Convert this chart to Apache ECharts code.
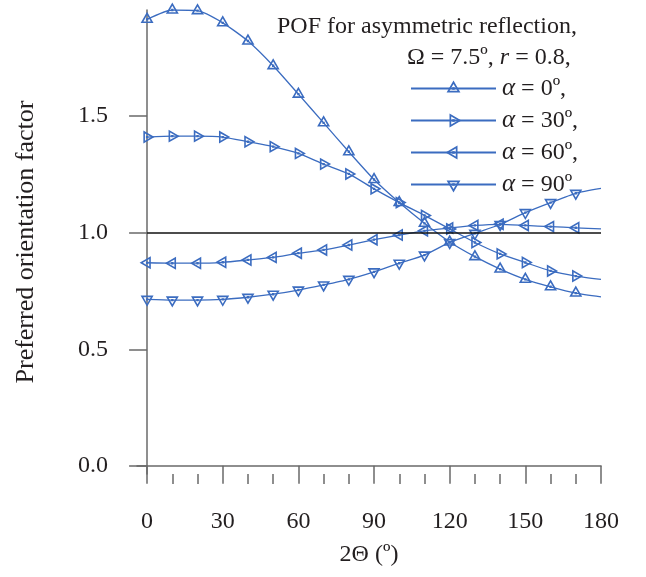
<!DOCTYPE html>
<html>
<head>
<meta charset="utf-8">
<script src="https://cdn.jsdelivr.net/npm/echarts@6/dist/echarts.min.js"></script>
<style>
  html, body { margin: 0; padding: 0; background: #fff; }
  #chart { width: 646px; height: 577px; }
</style>
</head>
<body>
<div id="chart"></div>
<script>
const twoTheta = [0, 10, 20, 30, 40, 50, 60, 70, 80, 90, 100, 110, 120, 130, 140, 150, 160, 170, 180]
const alphas = ['0', '30', '60', '90']
const pofAlpha0 = [1.915, 1.955, 1.952, 1.900, 1.822, 1.716, 1.594, 1.471, 1.347, 1.228, 1.129, 1.040, 0.960, 0.897, 0.844, 0.800, 0.768, 0.741, 0.725]
const pofAlpha30 = [1.410, 1.414, 1.414, 1.410, 1.390, 1.369, 1.340, 1.294, 1.252, 1.188, 1.129, 1.074, 1.016, 0.958, 0.909, 0.872, 0.836, 0.814, 0.800]
const pofAlpha60 = [0.871, 0.869, 0.869, 0.873, 0.883, 0.894, 0.912, 0.926, 0.947, 0.970, 0.990, 1.008, 1.020, 1.031, 1.036, 1.031, 1.026, 1.021, 1.016]
const pofAlpha90 = [0.714, 0.711, 0.711, 0.714, 0.723, 0.736, 0.754, 0.776, 0.800, 0.832, 0.869, 0.904, 0.958, 0.997, 1.035, 1.086, 1.129, 1.169, 1.190]
const yTicks = [0, 0.5, 1.0, 1.5]
const xTicks = [0, 30, 60, 90, 120, 150, 180]
const xMinorTicks = [10, 20, 40, 50, 70, 80, 100, 110, 130, 140, 160, 170]

const BLUE = '#3b6cc0'
const GREY = '#6a6a6a'
const INK = '#231f20'
const FONT = '"Liberation Serif", "Times New Roman", serif'
const FS = 24

// hollow triangle with a centre dot, padded so the centroid is the box centre
const TRI = 'path://M50 0L100 87L0 87Z M50 25L21.6 74.5L78.4 74.5Z M41 49L59 49L59 67L41 67Z M-8 116L-8 116Z M108 116L108 116Z'

const chart = echarts.init(document.getElementById('chart'))

const rotations = [0, -90, 90, 180]
const values = [pofAlpha0, pofAlpha30, pofAlpha60, pofAlpha90]

const series = values.map((ys, i) => ({
  name: 'a' + alphas[i],
  type: 'line',
  smooth: 0.2,
  symbol: TRI,
  symbolSize: 15,
  symbolRotate: rotations[i],
  lineStyle: { color: BLUE, width: 1.3 },
  itemStyle: { color: BLUE, borderWidth: 0 },
  data: twoTheta.map((x, j) => j === twoTheta.length - 1
    ? { value: [x, ys[j]], symbol: 'none' }
    : [x, ys[j]]),
  z: 3
}))

series.push({
  name: 'ref',
  type: 'line',
  data: [],
  markLine: {
    silent: true,
    symbol: 'none',
    label: { show: false },
    lineStyle: { color: '#111', width: 1.5, type: 'solid' },
    data: [[{ coord: [0, 1] }, { coord: [180, 1] }]]
  },
  z: 2
})

chart.setOption({
  animation: false,
  title: [
    {
      text: 'POF for asymmetric reflection,',
      left: 272, top: 10,
      textStyle: { fontFamily: FONT, fontSize: FS, fontWeight: 'normal', color: INK }
    },
    {
      text: 'Ω = 7.5º, {i|r} = 0.8,',
      left: 402, top: 41,
      textStyle: {
        fontFamily: FONT, fontSize: FS, fontWeight: 'normal', color: INK,
        rich: { i: { fontFamily: FONT, fontSize: FS, fontStyle: 'italic', color: INK } }
      }
    }
  ],
  legend: {
    data: series.slice(0, 4).map(s => s.name),
    orient: 'vertical',
    left: 405, top: 71,
    itemWidth: 85, itemHeight: 20, itemGap: 7,
    formatter: name => '{i|α} = ' + name.slice(1) + 'º' + (name === 'a90' ? '' : ','),
    textStyle: {
      fontFamily: FONT, fontSize: FS, color: INK, lineHeight: 20, padding: [0, 0, 0, 1],
      rich: { i: { fontFamily: FONT, fontSize: FS + 1, fontStyle: 'italic', color: INK, lineHeight: 20 } }
    }
  },
  grid: { left: 137, right: 45, top: 10, bottom: 103 },
  xAxis: [
    {
      type: 'value', min: -4, max: 180,
      name: '2Θ (º)', nameLocation: 'middle', nameGap: 69,
      nameTextStyle: { fontFamily: FONT, fontSize: FS, color: INK },
      splitLine: { show: false },
      axisLine: { lineStyle: { color: GREY, width: 1.5 } },
      axisTick: { customValues: xTicks, length: 18, lineStyle: { color: GREY, width: 1.5 } },
      axisLabel: {
        customValues: xTicks, margin: 36,
        fontFamily: FONT, fontSize: FS, color: INK
      }
    },
    {
      type: 'value', min: -4, max: 180, position: 'bottom',
      splitLine: { show: false },
      axisLine: { show: false },
      axisTick: { customValues: xMinorTicks, length: 10, lineStyle: { color: GREY, width: 1.5 } },
      axisLabel: { show: false }
    }
  ],
  yAxis: {
    type: 'value', min: -0.035, max: 1.955,
    name: 'Preferred orientation factor', nameLocation: 'middle', nameGap: 98,
    nameTextStyle: { fontFamily: FONT, fontSize: FS + 2, color: INK },
    splitLine: { show: false },
    axisLine: { show: true, lineStyle: { color: GREY, width: 1.5 } },
    axisTick: { show: true, customValues: yTicks, length: 18, lineStyle: { color: GREY, width: 1.5 } },
    axisLabel: {
      customValues: yTicks, margin: 29,
      formatter: v => v.toFixed(1),
      fontFamily: FONT, fontSize: FS, color: INK
    }
  },
  series: series
})
</script>
</body>
</html>
